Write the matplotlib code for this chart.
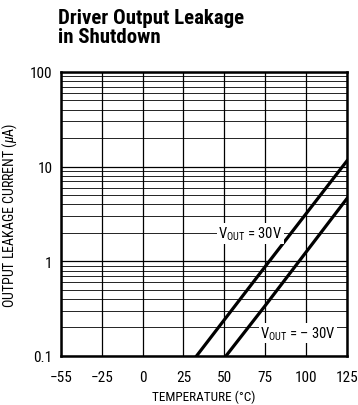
import matplotlib
matplotlib.use('agg')
import matplotlib.pyplot as plt
from matplotlib.ticker import FixedLocator, NullLocator, NullFormatter

plt.rcParams['font.family'] = ['Roboto Condensed', 'DejaVu Sans']
plt.rcParams['mathtext.fontset'] = 'custom'
plt.rcParams['mathtext.rm'] = 'Roboto Condensed'
plt.rcParams['mathtext.it'] = 'Roboto Condensed:italic'

# data (temperature in deg C, current in uA)
temp_pos30 = [33, 75, 125]
leak_pos30 = [0.1, 0.88, 11.5]
temp_neg30 = [51, 75, 125]
leak_neg30 = [0.1, 0.34, 4.6]

x_ticks = [-50, -25, 0, 25, 50, 75, 100, 125]
x_labels = ['\u221255', '\u221225', '0', '25', '50', '75', '100', '125']
y_ticks = [0.1, 1, 10, 100]
y_labels = ['0.1', '1', '10', '100']
minor_y = [m * 10.0 ** e for e in (-1, 0, 1) for m in range(2, 10)]

fig = plt.figure(figsize=(3.58, 4.06), dpi=100)
ax = fig.add_axes([0.170, 0.1207, 0.799, 0.6995])

ax.set_yscale('log')
ax.set_xlim(-50, 125)
ax.set_ylim(0.1, 100)

# grid
for y in minor_y:
    ax.axhline(y, color='black', lw=0.6, zorder=1)
for y in y_ticks:
    ax.axhline(y, color='black', lw=0.9, zorder=1)
for x in x_ticks:
    ax.axvline(x, color='black', lw=0.9, zorder=1)

ax.plot(temp_pos30, leak_pos30, color='black', lw=2.3, zorder=3)
ax.plot(temp_neg30, leak_neg30, color='black', lw=2.3, zorder=3)

ax.text(66, 1.97, 'V$_{\\mathrm{OUT}}$ = 30V', fontsize=10.5, ha='center', va='center',
        zorder=4, bbox=dict(facecolor='white', edgecolor='none', pad=1))
ax.text(95, 0.175, 'V$_{\\mathrm{OUT}}$ = \u2013 30V', fontsize=10.5, ha='center', va='center',
        zorder=4, bbox=dict(facecolor='white', edgecolor='none', pad=1))

ax.xaxis.set_major_locator(FixedLocator(x_ticks))
ax.set_xticklabels(x_labels)
ax.yaxis.set_major_locator(FixedLocator(y_ticks))
ax.set_yticklabels(y_labels)
ax.yaxis.set_minor_locator(NullLocator())
ax.yaxis.set_minor_formatter(NullFormatter())
ax.tick_params(axis='x', which='both', length=0, labelsize=11, pad=10)
ax.tick_params(axis='y', which='both', length=0, labelsize=11, pad=6)

for s in ax.spines.values():
    s.set_linewidth(1.8)

ax.set_xlabel('TEMPERATURE (\u00b0C)', fontsize=9.5, labelpad=4)
ax.set_ylabel('OUTPUT LEAKAGE CURRENT ($\\mu$A)', fontsize=10, labelpad=8)

fig.text(0.162, 0.978, 'Driver Output Leakage\nin Shutdown', fontsize=15, fontweight='bold',
         ha='left', va='top', linespacing=1.0)

fig.savefig('out.png', dpi=100)
